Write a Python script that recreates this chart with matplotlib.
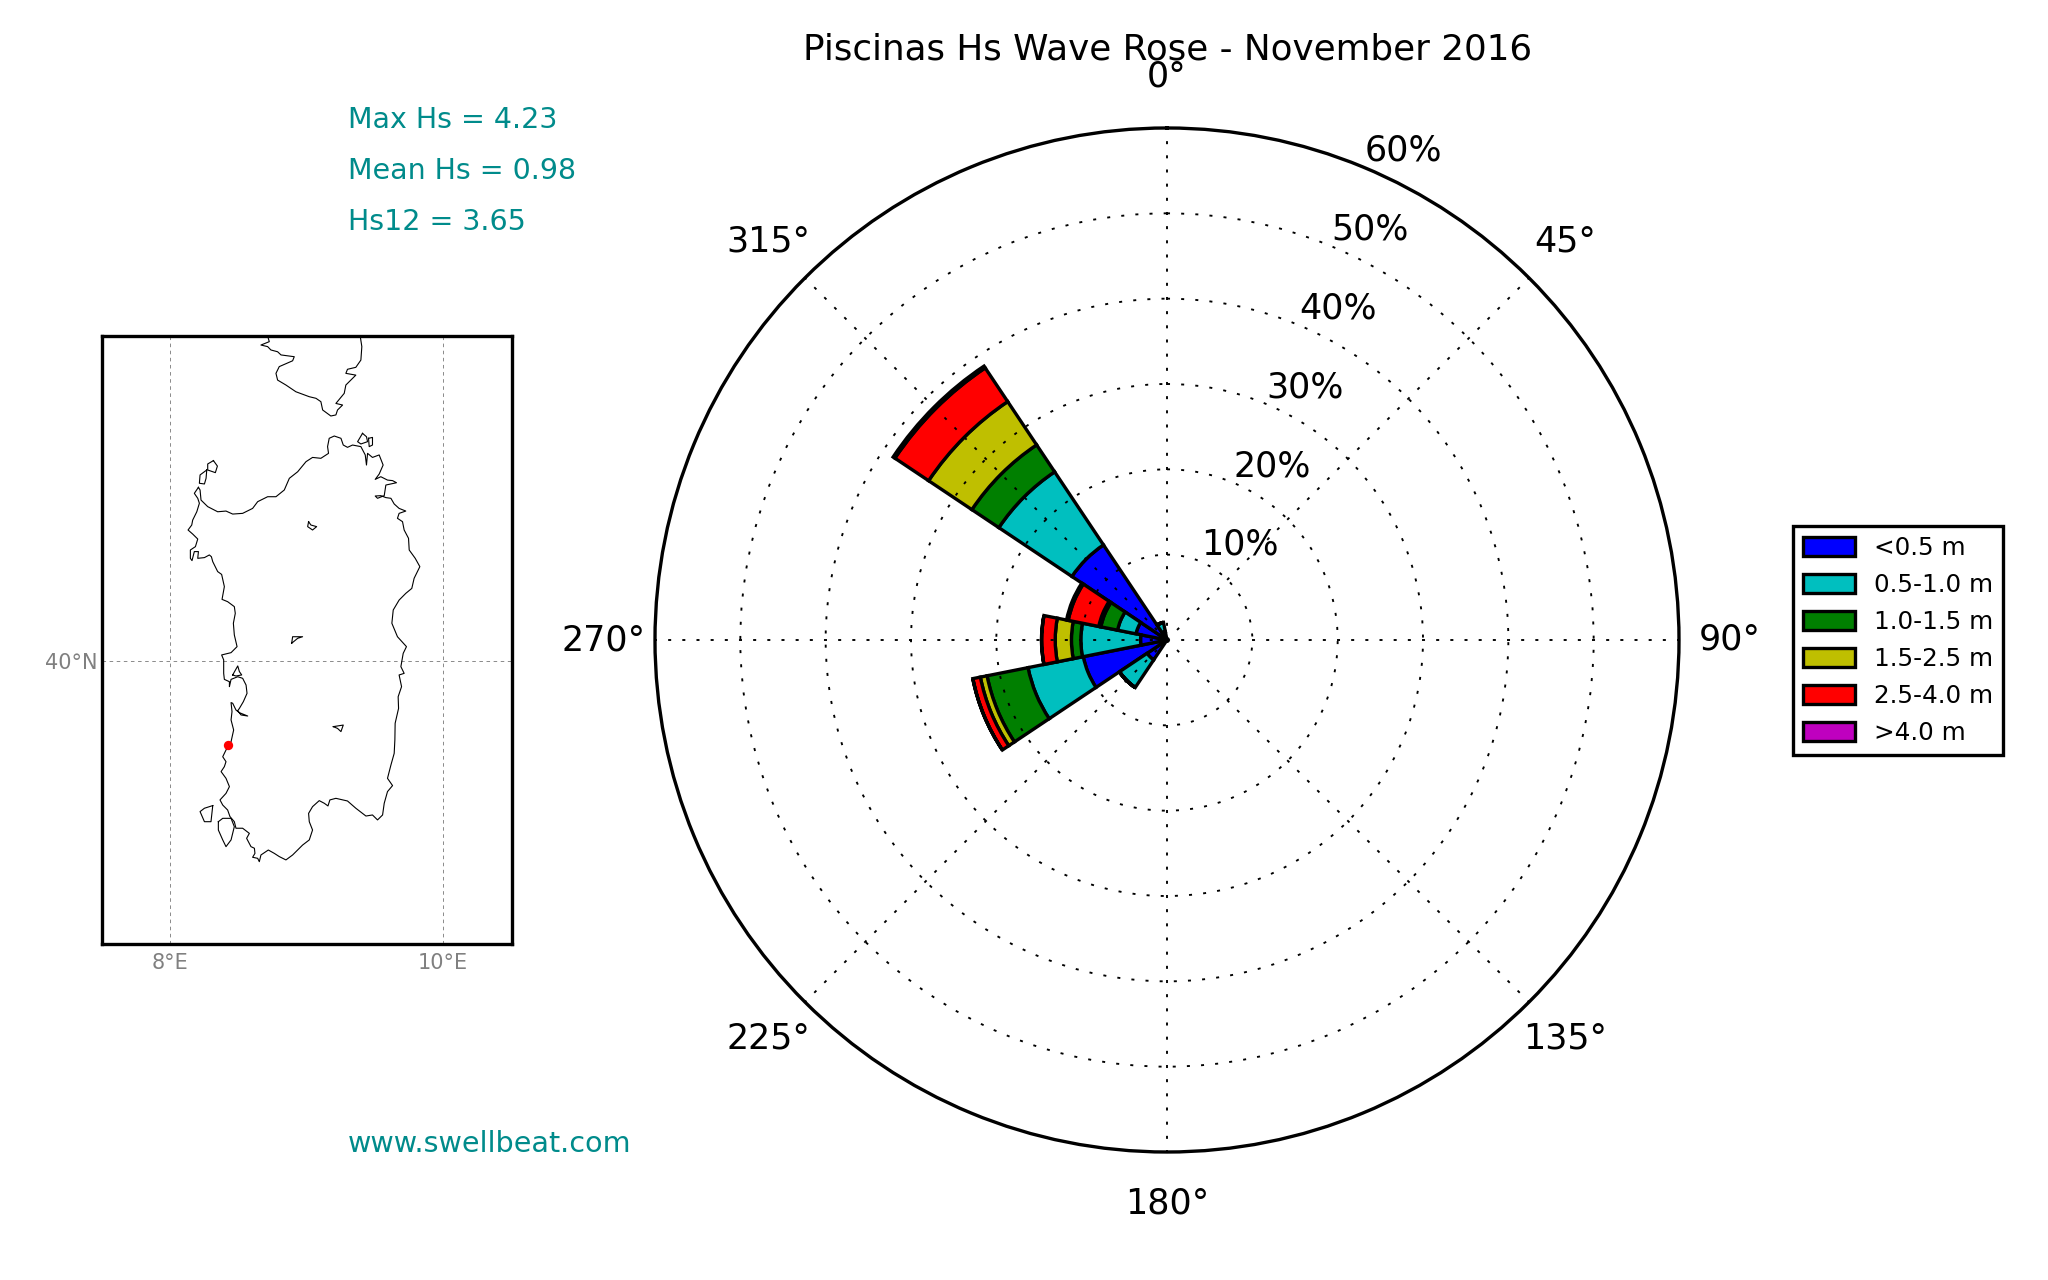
import numpy as np
import matplotlib
matplotlib.use("Agg")
import matplotlib.pyplot as plt

W, H = 2048, 1280

# wave rose, percent of time per direction bin
directions = [0, 22.5, 45, 67.5, 90, 112.5, 135, 157.5, 180, 202.5, 225, 247.5, 270, 292.5, 315, 337.5]
hs_lt05 = [0, 0, 0, 0, 0, 0, 0, 0, 0, 0, 2.8, 10.0, 3.1, 3.7, 13.4, 1.0]
hs_05_10 = [0, 0, 0, 0, 0, 0, 0, 0, 0, 0, 3.9, 6.6, 7.0, 2.2, 10.3, 1.1]
hs_10_15 = [0, 0, 0, 0, 0, 0, 0, 0, 0, 0, 0, 4.9, 1.1, 2.0, 3.8, 0]
hs_15_25 = [0, 0, 0, 0, 0, 0, 0, 0, 0, 0, 0, 0.8, 1.9, 0.25, 6.1, 0]
hs_25_40 = [0, 0, 0, 0, 0, 0, 0, 0, 0, 0, 0, 0.9, 1.6, 3.65, 4.75, 0]
hs_gt40 = [0, 0, 0, 0, 0, 0, 0, 0, 0, 0, 0, 0, 0, 0.2, 0.25, 0]
series = [hs_lt05, hs_05_10, hs_10_15, hs_15_25, hs_25_40, hs_gt40]
labels = ["<0.5 m", "0.5-1.0 m", "1.0-1.5 m", "1.5-2.5 m", "2.5-4.0 m", ">4.0 m"]
colors = ["#0000ff", "#00bfbf", "#007f00", "#bfbf00", "#ff0000", "#bf00bf"]
rings = [10, 20, 30, 40, 50, 60]
ring_labels = ["10%", "20%", "30%", "40%", "50%", "60%"]
theta_ticks = [0, 45, 90, 135, 180, 225, 270, 315]
theta_labels = ["0°", "45°", "90°", "135°", "180°", "225°", "270°", "315°"]

# coastlines, (lon, lat)
sardinia = [(8.210, 40.983), (8.180, 40.949), (8.205, 40.921), (8.217, 40.893), (8.198, 40.845),
            (8.168, 40.798), (8.161, 40.770), (8.134, 40.742), (8.168, 40.719), (8.205, 40.691),
            (8.188, 40.648), (8.151, 40.629), (8.151, 40.582), (8.163, 40.569), (8.180, 40.620),
            (8.210, 40.620), (8.205, 40.582), (8.254, 40.586), (8.290, 40.601), (8.305, 40.591),
            (8.315, 40.563), (8.351, 40.507), (8.380, 40.491), (8.400, 40.422), (8.383, 40.350),
            (8.424, 40.337), (8.473, 40.309), (8.480, 40.271), (8.466, 40.215), (8.473, 40.149),
            (8.490, 40.092), (8.493, 40.083), (8.449, 40.049), (8.380, 40.036), (8.395, 40.008),
            (8.395, 39.932), (8.400, 39.898), (8.437, 39.885), (8.437, 39.857), (8.449, 39.898),
            (8.498, 39.913), (8.534, 39.904), (8.559, 39.866), (8.566, 39.819), (8.539, 39.772),
            (8.510, 39.734), (8.498, 39.721), (8.522, 39.697), (8.571, 39.691), (8.510, 39.710),
            (8.485, 39.725), (8.461, 39.763), (8.449, 39.767), (8.456, 39.716), (8.449, 39.669),
            (8.468, 39.612), (8.449, 39.546), (8.412, 39.499), (8.388, 39.461), (8.412, 39.433),
            (8.400, 39.405), (8.376, 39.377), (8.412, 39.339), (8.437, 39.292), (8.412, 39.254),
            (8.368, 39.217), (8.388, 39.188), (8.424, 39.160), (8.441, 39.123), (8.473, 39.094),
            (8.485, 39.057), (8.534, 39.057), (8.583, 39.028), (8.563, 39.000), (8.595, 38.953),
            (8.620, 38.944), (8.624, 38.915), (8.607, 38.893), (8.644, 38.887), (8.656, 38.868),
            (8.668, 38.906), (8.722, 38.934), (8.766, 38.915), (8.802, 38.897), (8.851, 38.878),
            (8.900, 38.906), (8.973, 38.962), (9.022, 38.991), (9.046, 39.047), (9.022, 39.094),
            (9.017, 39.141), (9.046, 39.179), (9.095, 39.213), (9.132, 39.198), (9.159, 39.183),
            (9.173, 39.217), (9.217, 39.226), (9.302, 39.211), (9.363, 39.170), (9.437, 39.126),
            (9.485, 39.132), (9.522, 39.104), (9.559, 39.132), (9.571, 39.198), (9.595, 39.264),
            (9.632, 39.298), (9.595, 39.339), (9.620, 39.414), (9.644, 39.480), (9.649, 39.556),
            (9.651, 39.650), (9.676, 39.734), (9.673, 39.800), (9.698, 39.857), (9.680, 39.923),
            (9.717, 39.932), (9.693, 39.970), (9.710, 40.045), (9.734, 40.083), (9.668, 40.139),
            (9.627, 40.215), (9.637, 40.290), (9.680, 40.346), (9.729, 40.384), (9.773, 40.412),
            (9.790, 40.469), (9.832, 40.535), (9.798, 40.582), (9.754, 40.629), (9.749, 40.695),
            (9.717, 40.742), (9.705, 40.789), (9.668, 40.808), (9.680, 40.836), (9.729, 40.849),
            (9.680, 40.864), (9.644, 40.889), (9.620, 40.921), (9.583, 40.925), (9.546, 40.936),
            (9.505, 40.934), (9.522, 40.921), (9.571, 40.936), (9.583, 40.996), (9.620, 41.002),
            (9.661, 41.009), (9.632, 41.021), (9.595, 41.024), (9.546, 41.043), (9.505, 41.028),
            (9.534, 41.058), (9.563, 41.109), (9.534, 41.166), (9.485, 41.152), (9.449, 41.175),
            (9.441, 41.109), (9.432, 41.166), (9.400, 41.213), (9.339, 41.222), (9.302, 41.209),
            (9.271, 41.222), (9.254, 41.260), (9.205, 41.273), (9.168, 41.260), (9.156, 41.213),
            (9.163, 41.175), (9.107, 41.147), (9.046, 41.152), (8.998, 41.128), (8.937, 41.071),
            (8.876, 41.034), (8.839, 40.968), (8.778, 40.930), (8.717, 40.930), (8.644, 40.902),
            (8.607, 40.864), (8.534, 40.836), (8.461, 40.832), (8.412, 40.849), (8.351, 40.845),
            (8.278, 40.874), (8.229, 40.911), (8.222, 40.968), (8.210, 40.983)]
corsica = [(8.717, 41.838), (8.729, 41.806), (8.668, 41.787), (8.717, 41.778), (8.741, 41.759),
           (8.790, 41.749), (8.815, 41.731), (8.912, 41.721), (8.900, 41.698), (8.802, 41.665),
           (8.778, 41.627), (8.790, 41.589), (8.851, 41.561), (8.924, 41.523), (9.022, 41.495),
           (9.071, 41.486), (9.107, 41.467), (9.120, 41.420), (9.180, 41.386), (9.217, 41.392),
           (9.229, 41.420), (9.266, 41.448), (9.217, 41.457), (9.278, 41.514), (9.290, 41.561),
           (9.363, 41.617), (9.290, 41.627), (9.302, 41.650), (9.363, 41.661), (9.400, 41.702),
           (9.407, 41.778), (9.395, 41.838)]
asinara_n = [(8.320, 41.134), (8.278, 41.115), (8.278, 41.081), (8.334, 41.066), (8.349, 41.103), (8.320, 41.134)]
asinara_s = [(8.271, 41.081), (8.222, 41.053), (8.217, 41.006), (8.254, 41.002), (8.266, 41.034), (8.271, 41.081)]
maddalena = [(9.412, 41.288), (9.376, 41.241), (9.400, 41.228), (9.449, 41.241), (9.441, 41.269), (9.412, 41.288)]
caprera = [(9.456, 41.260), (9.485, 41.265), (9.485, 41.222), (9.461, 41.213), (9.456, 41.260)]
coghinas = [(9.017, 40.789), (9.010, 40.761), (9.046, 40.742), (9.076, 40.761), (9.034, 40.770), (9.017, 40.789)]
omodeo = [(8.893, 40.102), (8.900, 40.139), (8.973, 40.139), (8.937, 40.130), (8.893, 40.102)]
mulargia = [(9.198, 39.631), (9.271, 39.640), (9.254, 39.603), (9.229, 39.621), (9.198, 39.631)]
san_pietro = [(8.315, 39.185), (8.254, 39.170), (8.222, 39.151), (8.254, 39.094), (8.302, 39.094), (8.315, 39.185)]
sant_antioco = [(8.356, 39.094), (8.388, 39.113), (8.449, 39.113), (8.473, 39.066), (8.449, 38.991),
                (8.412, 38.953), (8.388, 38.991), (8.356, 39.047), (8.356, 39.094)]
cabras = [(8.461, 39.923), (8.498, 39.974), (8.510, 39.942), (8.527, 39.923), (8.485, 39.917), (8.461, 39.923)]
coast = [sardinia, corsica, asinara_n, asinara_s, maddalena, caprera, coghinas, omodeo, mulargia,
         san_pietro, sant_antioco, cabras]
site_lon, site_lat = 8.424, 39.525

fig = plt.figure(figsize=(12.8, 8), dpi=160)

# rose
ax = fig.add_axes([(1167 - 512) / W, (H - 640 - 512) / H, 1024 / W, 1024 / H], projection="polar")
ax.set_theta_zero_location("N")
ax.set_theta_direction(-1)
theta = np.radians(directions)
bottom = np.zeros(len(directions))
for vals, lab, col in zip(series, labels, colors):
    ax.bar(theta, vals, width=np.radians(22.5), bottom=bottom, color=col, edgecolor="k", linewidth=1.5, label=lab)
    bottom = bottom + np.array(vals)
ax.set_ylim(0, 60)
ax.set_xticks(np.radians(theta_ticks))
ax.set_xticklabels(theta_labels, fontsize=15.7)
ax.set_yticks(rings)
ax.set_yticklabels([])
ax.tick_params(axis="x", pad=16, length=0)
ax.tick_params(axis="y", length=0)
ax.grid(True, color="k", linewidth=0.85, linestyle=(0, (1.6, 5.9)))
ax.spines["polar"].set_linewidth(1.5)
for r, lab in zip(rings, ring_labels):
    ax.annotate(lab, (np.radians(22.5), r), xytext=(18, 7.3), textcoords="offset points",
                ha="center", va="center", fontsize=15.7, annotation_clip=False)

ax.legend(loc="upper left", bbox_to_anchor=(1793 / W, 1 - 526 / H), bbox_transform=fig.transFigure,
          fontsize=11.1, fancybox=False, framealpha=1, edgecolor="k", borderaxespad=0,
          handlelength=2.1, handleheight=0.8, labelspacing=0.53, handletextpad=0.78, borderpad=0.4)
ax.get_legend().get_frame().set_linewidth(1.5)

# location inset
m = fig.add_axes([101.5 / W, (H - 944) / H, 410.5 / W, 608 / H])
for part in coast:
    lon, lat = zip(*part)
    m.plot(lon, lat, color="k", linewidth=0.5)
m.plot([site_lon], [site_lat], "o", color="r", markersize=4.2, markeredgewidth=0)
m.set_xlim(7.5, 10.507)
m.set_ylim(38.403, 41.838)
m.set_xticks([8, 10])
m.set_xticklabels(["8°E", "10°E"])
m.set_yticks([40])
m.set_yticklabels(["40°N"])
m.tick_params(length=0, labelsize=9.4, colors="#808080")
m.tick_params(axis="x", pad=4)
m.tick_params(axis="y", pad=2)
m.grid(True, color="#808080", linewidth=0.4, linestyle=(0, (4, 4)))
for s in m.spines.values():
    s.set_linewidth(1.5)

fig.text(1168 / W, 1 - 60 / H, "Piscinas Hs Wave Rose - November 2016", ha="center", va="baseline", fontsize=16.1)
fig.text(348 / W, 1 - 128 / H, "Max Hs = 4.23", color="#008b8b", fontsize=12.8, va="baseline")
fig.text(348 / W, 1 - 179 / H, "Mean Hs = 0.98", color="#008b8b", fontsize=12.8, va="baseline")
fig.text(348 / W, 1 - 230 / H, "Hs12 = 3.65", color="#008b8b", fontsize=12.8, va="baseline")
fig.text(348 / W, 1 - 1152 / H, "www.swellbeat.com", color="#008b8b", fontsize=12.9, va="baseline")

fig.savefig("out.png", dpi=160)
